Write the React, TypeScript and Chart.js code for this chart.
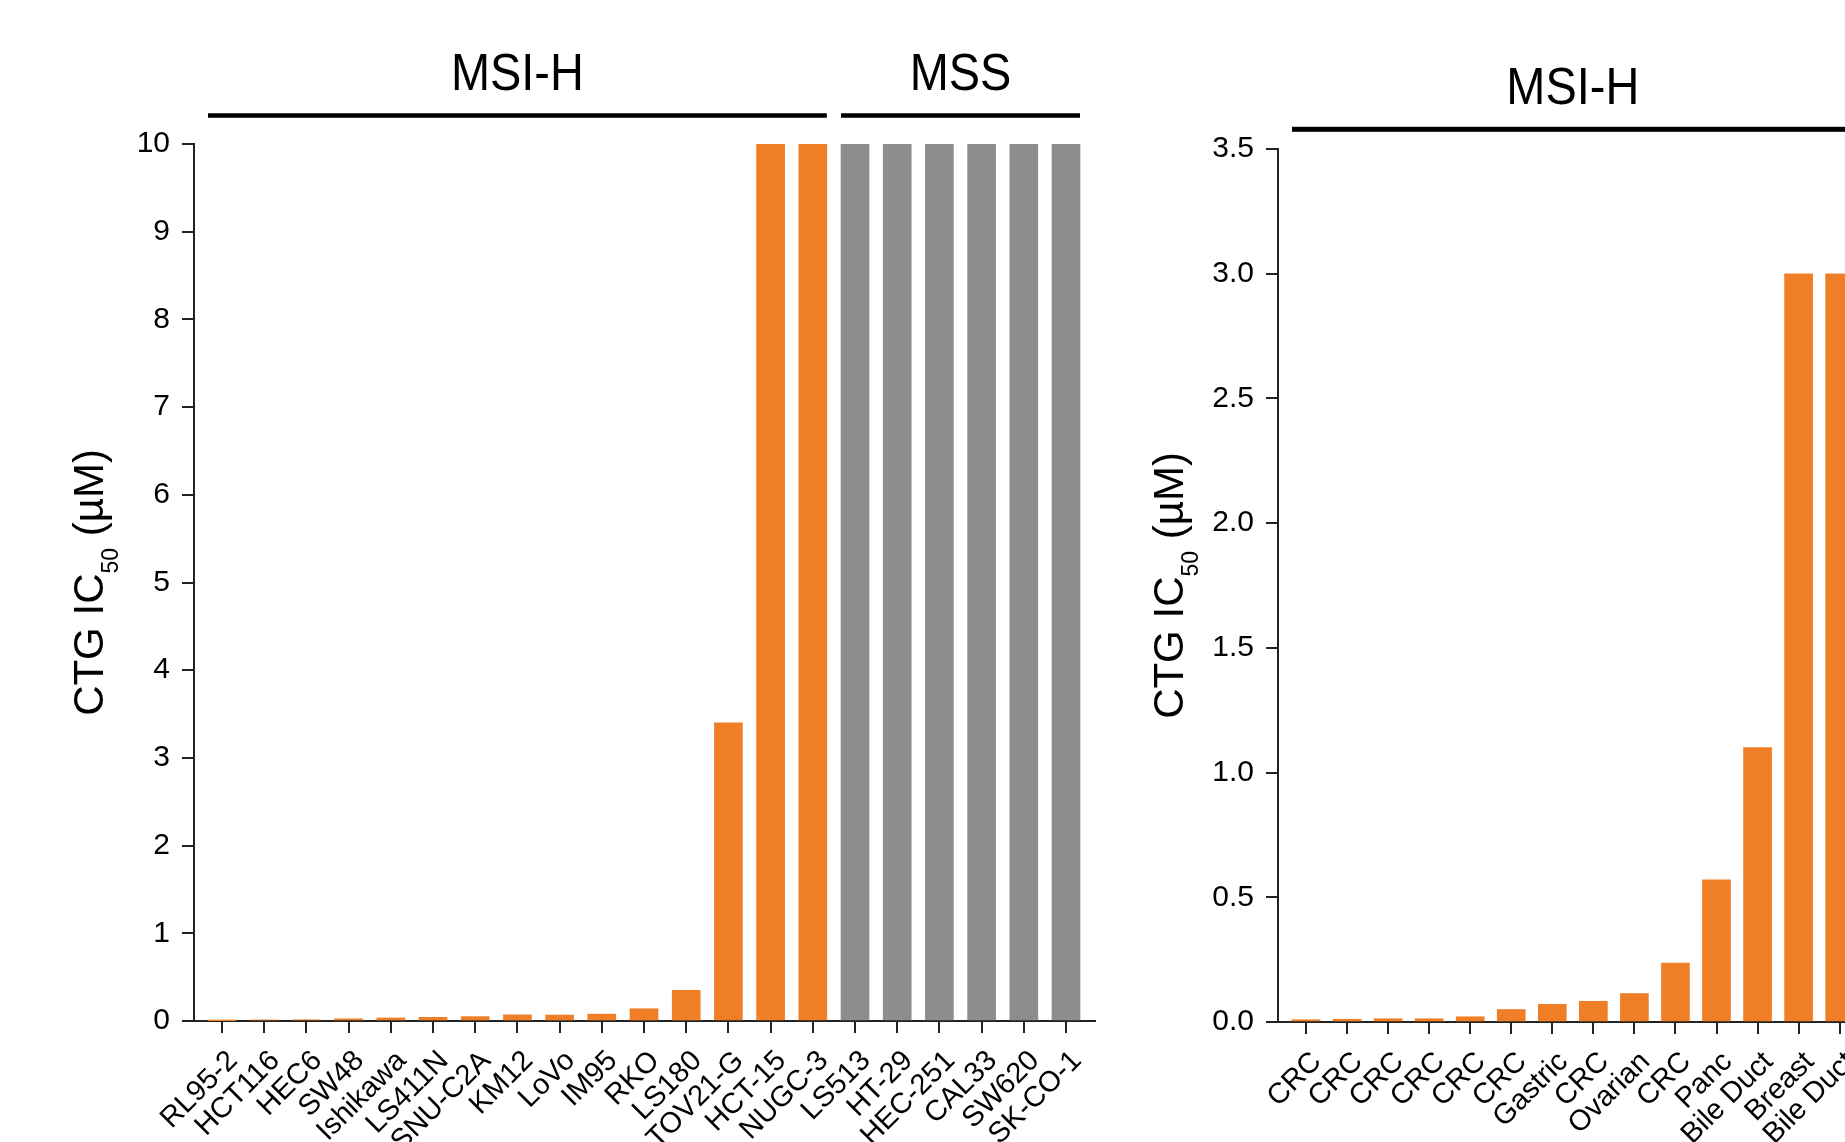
import React, { useEffect, useRef } from 'react';
import { Chart, registerables } from 'chart.js';

Chart.register(...registerables);

// ---------------- data ----------------
const leftCategories = [
  'RL95-2', 'HCT116', 'HEC6', 'SW48', 'Ishikawa', 'LS411N', 'SNU-C2A', 'KM12', 'LoVo', 'IM95',
  'RKO', 'LS180', 'TOV21-G', 'HCT-15', 'NUGC-3', 'LS513', 'HT-29', 'HEC-251', 'CAL33', 'SW620', 'SK-CO-1',
];
const leftValues = [
  0.002, 0.012, 0.014, 0.025, 0.035, 0.042, 0.05, 0.07, 0.068, 0.078,
  0.14, 0.35, 3.4, 10, 10, 10, 10, 10, 10, 10, 10,
];
const leftGroupNames = ['MSI-H', 'MSS'];
const leftGroupStart = [0, 15];
const leftGroupEnd = [14, 20];
const leftYMax = 10;
const leftYStep = 1;

const rightCategories = [
  'CRC', 'CRC', 'CRC', 'CRC', 'CRC', 'CRC', 'Gastric', 'CRC', 'Ovarian', 'CRC',
  'Panc', 'Bile Duct', 'Breast', 'Bile Duct',
];
const rightValues = [
  0.009, 0.011, 0.013, 0.013, 0.021, 0.05, 0.071, 0.083, 0.114, 0.236,
  0.57, 1.1, 3.0, 3.0,
];
const rightGroupNames = ['MSI-H'];
const rightGroupStart = [0];
const rightGroupEnd = [13];
const rightYMax = 3.5;
const rightYStep = 0.5;

const groupColors: Record<string, string> = { 'MSI-H': '#F07E26', MSS: '#8C8D8F' };

// ---------------- layout ----------------
const H = 1142;
const FONT = "'Liberation Sans', Arial, Helvetica, sans-serif";
Chart.defaults.font.family = FONT;

type Spec = {
  categories: string[];
  values: number[];
  groupNames: string[];
  groupStart: number[];
  groupEnd: number[];
  yMax: number;
  yStep: number;
  decimals: number;
  canvasLeft: number;
  canvasWidth: number;
  areaLeft: number;
  areaRight: number;
  areaTop: number;
  areaBottom: number;
  firstCenter: number;
  spacing: number;
  groupTextY: number;
  groupLineY: number;
  groupLineW: number;
  titleX: number;
};

const leftSpec: Spec = {
  categories: leftCategories,
  values: leftValues,
  groupNames: leftGroupNames,
  groupStart: leftGroupStart,
  groupEnd: leftGroupEnd,
  yMax: leftYMax,
  yStep: leftYStep,
  decimals: 0,
  canvasLeft: 0,
  canvasWidth: 1130,
  areaLeft: 194,
  areaRight: 1095,
  areaTop: 144,
  areaBottom: 1021,
  firstCenter: 222,
  spacing: 42.2,
  groupTextY: 90,
  groupLineY: 115.5,
  groupLineW: 4.5,
  titleX: 103,
};

const rightSpec: Spec = {
  categories: rightCategories,
  values: rightValues,
  groupNames: rightGroupNames,
  groupStart: rightGroupStart,
  groupEnd: rightGroupEnd,
  yMax: rightYMax,
  yStep: rightYStep,
  decimals: 1,
  canvasLeft: 1130,
  canvasWidth: 780,
  areaLeft: 1278,
  areaRight: 1890,
  areaTop: 149,
  areaBottom: 1022,
  firstCenter: 1306,
  spacing: 41.05,
  groupTextY: 104,
  groupLineY: 129.3,
  groupLineW: 5,
  titleX: 1183,
};

const annotatePlugin = {
  id: 'annotate',
  afterDraw(chart: any, _args: any, opts: any) {
    const spec: Spec = opts.spec;
    const ctx = chart.ctx as CanvasRenderingContext2D;
    const xs = chart.scales.x;
    const half = 14;
    ctx.save();
    ctx.fillStyle = '#000';
    spec.groupNames.forEach((name, gi) => {
      const x0 = xs.getPixelForValue(spec.groupStart[gi]) - half;
      const x1 = xs.getPixelForValue(spec.groupEnd[gi]) + half;
      ctx.fillRect(x0, spec.groupLineY - spec.groupLineW / 2, x1 - x0, spec.groupLineW);
      ctx.save();
      ctx.translate((x0 + x1) / 2, spec.groupTextY);
      ctx.scale(0.92, 1);
      ctx.font = `51px ${FONT}`;
      ctx.textAlign = 'center';
      ctx.textBaseline = 'alphabetic';
      ctx.fillText(name, 0, 0);
      ctx.restore();
    });
    // y axis title with subscript
    const area = chart.chartArea;
    ctx.save();
    ctx.translate(spec.titleX - spec.canvasLeft, (area.top + area.bottom) / 2);
    ctx.rotate(-Math.PI / 2);
    ctx.textAlign = 'left';
    ctx.textBaseline = 'alphabetic';
    const mainFont = `42px ${FONT}`;
    const subFont = `23px ${FONT}`;
    const t1 = 'CTG IC';
    const t2 = '50';
    const t3 = ' (µM)';
    ctx.font = mainFont;
    const w1 = ctx.measureText(t1).width;
    const w3 = ctx.measureText(t3).width;
    ctx.font = subFont;
    const w2 = ctx.measureText(t2).width;
    let x = -(w1 + w2 + w3) / 2;
    ctx.font = mainFont;
    ctx.fillText(t1, x, 0);
    x += w1;
    ctx.font = subFont;
    ctx.fillText(t2, x, 15);
    x += w2;
    ctx.font = mainFont;
    ctx.fillText(t3, x, 0);
    ctx.restore();
    ctx.restore();
  },
};

function buildConfig(spec: Spec): any {
  const colors = spec.values.map((_, i) => {
    const gi = spec.groupNames.findIndex((_, g) => i >= spec.groupStart[g] && i <= spec.groupEnd[g]);
    return groupColors[spec.groupNames[gi]];
  });
  const aL = spec.areaLeft - spec.canvasLeft;
  const aR = spec.areaRight - spec.canvasLeft;
  const xMin = -(spec.firstCenter - spec.areaLeft) / spec.spacing;
  const xMax = xMin + (spec.areaRight - spec.areaLeft) / spec.spacing;
  const axisColor = '#222';
  return {
    type: 'bar',
    data: {
      datasets: [
        {
          data: spec.values.map((v, i) => ({ x: i, y: v })),
          backgroundColor: colors,
          borderWidth: 0,
          barThickness: 28,
        },
      ],
    },
    options: {
      animation: false,
      responsive: false,
      devicePixelRatio: 1,
      layout: { padding: { left: 0, top: spec.areaTop, right: spec.canvasWidth - aR, bottom: 0 } },
      plugins: {
        legend: { display: false },
        tooltip: { enabled: false },
        annotate: { spec },
      },
      scales: {
        x: {
          type: 'linear',
          min: xMin,
          max: xMax,
          bounds: 'data',
          offset: false,
          grid: {
            display: true,
            drawOnChartArea: false,
            drawTicks: true,
            tickLength: 12,
            offset: false,
            color: axisColor,
            lineWidth: 2,
          },
          border: { display: true, color: axisColor, width: 2 },
          ticks: {
            autoSkip: false,
            maxRotation: 45,
            minRotation: 45,
            padding: 11,
            labelOffset: 11,
            color: '#000',
            font: { size: 29, family: FONT },
            callback: (v: any) => spec.categories[v] ?? '',
          },
          afterBuildTicks: (s: any) => {
            s.ticks = spec.categories.map((_, i) => ({ value: i }));
          },
          afterFit: (s: any) => {
            s.height = H - spec.areaBottom;
          },
        },
        y: {
          type: 'linear',
          min: 0,
          max: spec.yMax,
          grid: {
            display: true,
            drawOnChartArea: false,
            drawTicks: true,
            tickLength: 12,
            color: axisColor,
            lineWidth: 2,
          },
          border: { display: true, color: axisColor, width: 2 },
          ticks: {
            stepSize: spec.yStep,
            padding: 12,
            color: '#000',
            font: { size: 30, family: FONT },
            callback: (v: any) => Number(v).toFixed(spec.decimals),
          },
          afterFit: (s: any) => {
            s.width = aL;
          },
        },
      },
    },
    plugins: [annotatePlugin],
  };
}

function Panel({ spec }: { spec: Spec }) {
  const ref = useRef<HTMLCanvasElement>(null);
  useEffect(() => {
    if (!ref.current) return;
    const chart = new Chart(ref.current, buildConfig(spec));
    return () => chart.destroy();
  }, [spec]);
  return (
    <canvas
      ref={ref}
      width={spec.canvasWidth}
      height={H}
      style={{ position: 'absolute', left: spec.canvasLeft, top: 0, width: spec.canvasWidth, height: H }}
    />
  );
}

export default function App() {
  useEffect(() => {
    document.body.style.margin = '0';
    document.body.style.overflow = 'hidden';
  }, []);
  return (
    <div
      style={{
        position: 'absolute',
        left: 0,
        top: 0,
        width: 1845,
        height: H,
        overflow: 'hidden',
        background: '#fff',
      }}
    >
      <Panel spec={leftSpec} />
      <Panel spec={rightSpec} />
    </div>
  );
}
